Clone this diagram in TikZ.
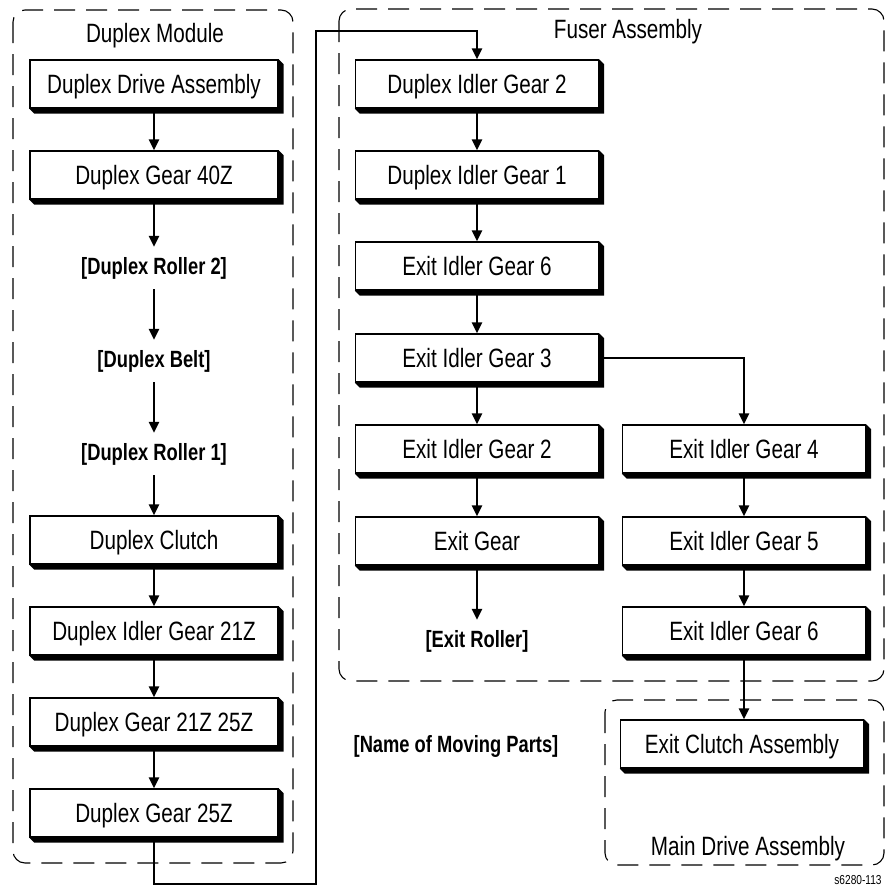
\documentclass[tikz,border=0pt]{standalone}
\usepackage{fontspec}
\setmainfont{Liberation Sans}[FakeStretch=0.78]
\usetikzlibrary{arrows.meta,calc}

\tikzset{
  part/.style={draw, line width=1.3pt, fill=white, minimum width=243pt, minimum height=48pt, inner sep=0pt,
               text height=19pt, text depth=0pt},
  moving/.style={font=\bfseries\fontsize{23.5}{26}\selectfont, inner xsep=0pt, inner ysep=10pt},
  flow/.style={line width=2.2pt, -{Triangle[length=11pt,width=10pt]}},
  group/.style={dash pattern=on 21pt off 11pt, line width=1.1pt, rounded corners=12pt},
}

\begin{document}
\begin{tikzpicture}[x=1pt, y=-1pt, font=\fontsize{26.5}{30}\selectfont]
\useasboundingbox (0,0) rectangle (895,886);
%%%%% Assemblies %%%%%
\draw[group] (13,10) rectangle (293,863);
\draw[group] (339,9) rectangle (884,681);
\draw[group] (605,700) rectangle (884,865);
\node[anchor=base] (dmod) at (155,42) {Duplex Module};
\node[anchor=base] (fuser) at (628,38) {Fuser Assembly};
\node[anchor=base] (maindrv) at (748,855) {Main Drive Assembly};
\node[anchor=base, font=\fontsize{13}{15}\selectfont] (fig) at (858,884) {s6280-113};

%%%%% Duplex Module %%%%%
\node[part, minimum width=248pt] (dda) at (154,84) {Duplex Drive Assembly};
\node[part, minimum width=248pt] (dg40) at (154,175) {Duplex Gear 40Z};
\node[moving] (dr2) at (154,268) {[Duplex Roller 2]};
\node[moving] (dbelt) at (154,361) {[Duplex Belt]};
\node[moving] (dr1) at (154,454) {[Duplex Roller 1]};
\node[part, minimum width=248pt] (dclutch) at (154,540) {Duplex Clutch};
\node[part, minimum width=248pt] (dig21) at (154,631) {Duplex Idler Gear 21Z};
\node[part, minimum width=248pt] (dg2125) at (154,722) {Duplex Gear 21Z 25Z};
\node[part, minimum width=248pt] (dg25) at (154,813) {Duplex Gear 25Z};

%%%%% Fuser Assembly %%%%%
\node[part] (dig2) at (477,84) {Duplex Idler Gear 2};
\node[part] (dig1) at (477,175) {Duplex Idler Gear 1};
\node[part] (eig6) at (477,266) {Exit Idler Gear 6};
\node[part] (eig3) at (477,358) {Exit Idler Gear 3};
\node[part] (eig2) at (477,449) {Exit Idler Gear 2};
\node[part] (egear) at (477,541) {Exit Gear};
\node[moving] (eroller) at (477,641) {[Exit Roller]};
\node[part] (eig4) at (744,449) {Exit Idler Gear 4};
\node[part] (eig5) at (744,541) {Exit Idler Gear 5};
\node[part] (eig6b) at (744,631) {Exit Idler Gear 6};

%%%%% Main Drive Assembly %%%%%
\node[part] (eclutch) at (742,744) {Exit Clutch Assembly};

\node[moving] (legend) at (456,746) {[Name of Moving Parts]};

%%%%% Shadows %%%%%
\foreach \n in {dda,dg40,dclutch,dig21,dg2125,dg25,dig2,dig1,eig6,eig3,eig2,egear,eig4,eig5,eig6b,eclutch}{
  \fill (\n.north east) -- ++(5,5) -- ($(\n.south east)+(5,5)$) -- ($(\n.south west)+(5,5)$)
        -- (\n.south west) -- (\n.south east) -- cycle;
}

%%%%% Drive train %%%%%
\foreach \a/\b in {dda/dg40,dg40/dr2,dr2/dbelt,dbelt/dr1,dr1/dclutch,dclutch/dig21,dig21/dg2125,dg2125/dg25,
                   dig2/dig1,dig1/eig6,eig6/eig3,eig3/eig2,eig2/egear,egear/eroller,eig4/eig5,eig5/eig6b}{
  \draw[flow] (\a.south) -- (\b.north);
}
\coordinate (wirelow) at (316,884);
\coordinate (wirehigh) at (316,31);
\draw[flow] (dg25.south) |- (wirelow) -- (wirehigh) -| (dig2.north);
\draw[flow] (eig3.east) -| (eig4.north);
\draw[flow] (eig6b.south) -- (eig6b.south |- eclutch.north);
\end{tikzpicture}
\end{document}
